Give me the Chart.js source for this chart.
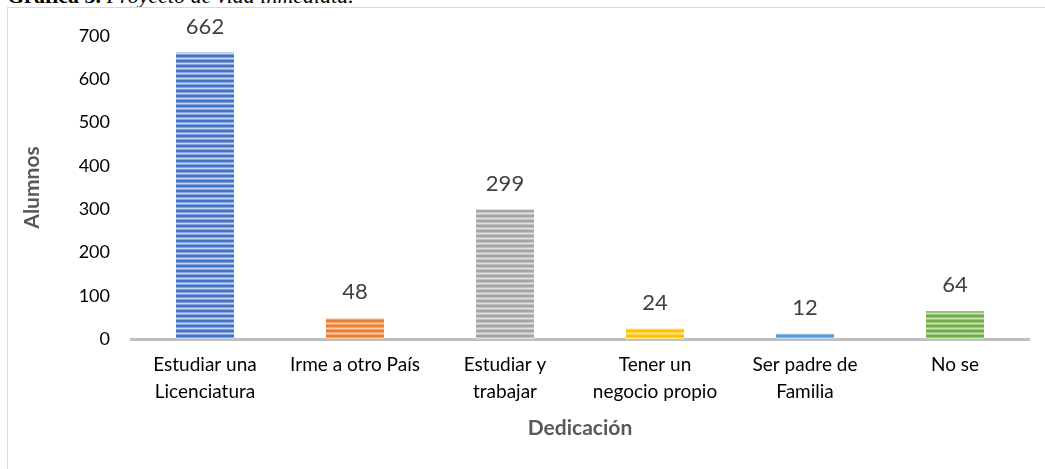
<!DOCTYPE html>
<html lang="es">
<head>
    <meta charset="UTF-8">
    <title>Proyecto de vida inmediata</title>
    <script src="https://cdn.jsdelivr.net/npm/chart.js"></script>
    <style>
        body {
            margin: 0;
            width: 1045px;
            height: 469px;
            overflow: hidden;
            background: #fff;
            position: relative;
        }
        .caption {
            position: absolute;
            left: 7px;
            top: -15px;
            font-family: "Liberation Serif", "Times New Roman", serif;
            font-size: 22px;
            line-height: 22px;
            white-space: nowrap;
            color: #000;
        }
        .frame {
            position: absolute;
            left: 7px;
            top: 7px;
            width: 1100px;
            height: 500px;
            border-top: 1px solid #d9d9d9;
            border-left: 1px solid #d9d9d9;
        }
        canvas {
            position: absolute;
            left: 0;
            top: 0;
        }
    </style>
</head>
<body>
    <div class="caption"><b>Gráfica 3.</b> <i>Proyecto de vida inmediata.</i></div>
    <div class="frame"></div>
    <canvas id="chart" width="1045" height="469"></canvas>

    <script>
        // data
        const categories = [
            ['Estudiar una', 'Licenciatura'],
            'Irme a otro País',
            ['Estudiar y', 'trabajar'],
            ['Tener un', 'negocio propio'],
            ['Ser padre de', 'Familia'],
            'No se'
        ];
        const alumnos = [662, 48, 299, 24, 12, 64];
        const yTicks = [0, 100, 200, 300, 400, 500, 600, 700];

        // bar colours: [dark stripe, light stripe]
        const barColors = [
            ['#4472c4', '#c9d6ef'],
            ['#ed7d31', '#f8cbad'],
            ['#a5a5a5', '#e0e0e0'],
            ['#ffc000', '#ffe699'],
            ['#5b9bd5', '#bdd7ee'],
            ['#70ad47', '#c8e2b6']
        ];

        function stripes(dark, light) {
            const c = document.createElement('canvas');
            c.width = 4;
            c.height = 5;
            const g = c.getContext('2d');
            g.fillStyle = dark;
            g.fillRect(0, 0, 4, 5);
            g.fillStyle = light;
            g.fillRect(0, 3, 4, 1);
            g.globalAlpha = 0.5;
            g.fillRect(0, 2, 4, 1);
            g.fillRect(0, 4, 4, 1);
            return g.createPattern(c, 'repeat');
        }

        // gray base line under the bars, only as wide as the plot area
        const baseLine = {
            id: 'baseLine',
            beforeDatasetsDraw(chart) {
                const { ctx, chartArea } = chart;
                ctx.save();
                ctx.strokeStyle = '#bfbfbf';
                ctx.lineWidth = 3;
                ctx.beginPath();
                ctx.moveTo(chartArea.left, chartArea.bottom + 0.5);
                ctx.lineTo(chartArea.right, chartArea.bottom + 0.5);
                ctx.stroke();
                ctx.restore();
            }
        };

        const valueLabels = {
            id: 'valueLabels',
            afterDatasetsDraw(chart) {
                const ctx = chart.ctx;
                const meta = chart.getDatasetMeta(0);
                ctx.save();
                ctx.font = '22px Lato';
                ctx.fillStyle = '#404040';
                ctx.textAlign = 'center';
                ctx.textBaseline = 'middle';
                meta.data.forEach((bar, i) => {
                    ctx.fillText(alumnos[i], bar.x, bar.y - 26);
                });
                ctx.restore();
            }
        };

        new Chart(document.getElementById('chart'), {
            type: 'bar',
            data: {
                labels: categories,
                datasets: [{
                    label: 'Alumnos',
                    data: alumnos,
                    backgroundColor: barColors.map(c => stripes(c[0], c[1])),
                    borderWidth: 0,
                    categoryPercentage: 1,
                    barPercentage: 0.387
                }]
            },
            options: {
                responsive: false,
                animation: false,
                layout: { padding: { left: 0, right: 15, top: 36, bottom: 0 } },
                plugins: {
                    legend: { display: false },
                    tooltip: { enabled: false }
                },
                scales: {
                    x: {
                        grid: { display: false, drawTicks: false },
                        border: { display: false },
                        ticks: {
                            color: '#000',
                            font: { family: 'Lato', size: 19, lineHeight: 1.42 },
                            padding: 12,
                            maxRotation: 0,
                            autoSkip: false
                        },
                        title: {
                            display: true,
                            text: 'Dedicación',
                            color: '#595959',
                            font: { family: 'Lato', size: 21, weight: 'bold' },
                            padding: { top: 0, bottom: 28 }
                        },
                        afterFit(s) { s.height = 130; }
                    },
                    y: {
                        min: 0,
                        max: 700,
                        grid: { display: false, drawTicks: false },
                        border: { display: false },
                        afterBuildTicks(s) { s.ticks = yTicks.map(v => ({ value: v })); },
                        ticks: {
                            color: '#000',
                            font: { family: 'Lato', size: 18 },
                            padding: 20
                        },
                        title: {
                            display: true,
                            text: 'Alumnos',
                            color: '#595959',
                            font: { family: 'Lato', size: 21, weight: 'bold' },
                            padding: { top: 20, bottom: 0 }
                        },
                        afterFit(s) { s.width = 130; }
                    }
                }
            },
            plugins: [baseLine, valueLabels]
        });
    </script>
</body>
</html>
